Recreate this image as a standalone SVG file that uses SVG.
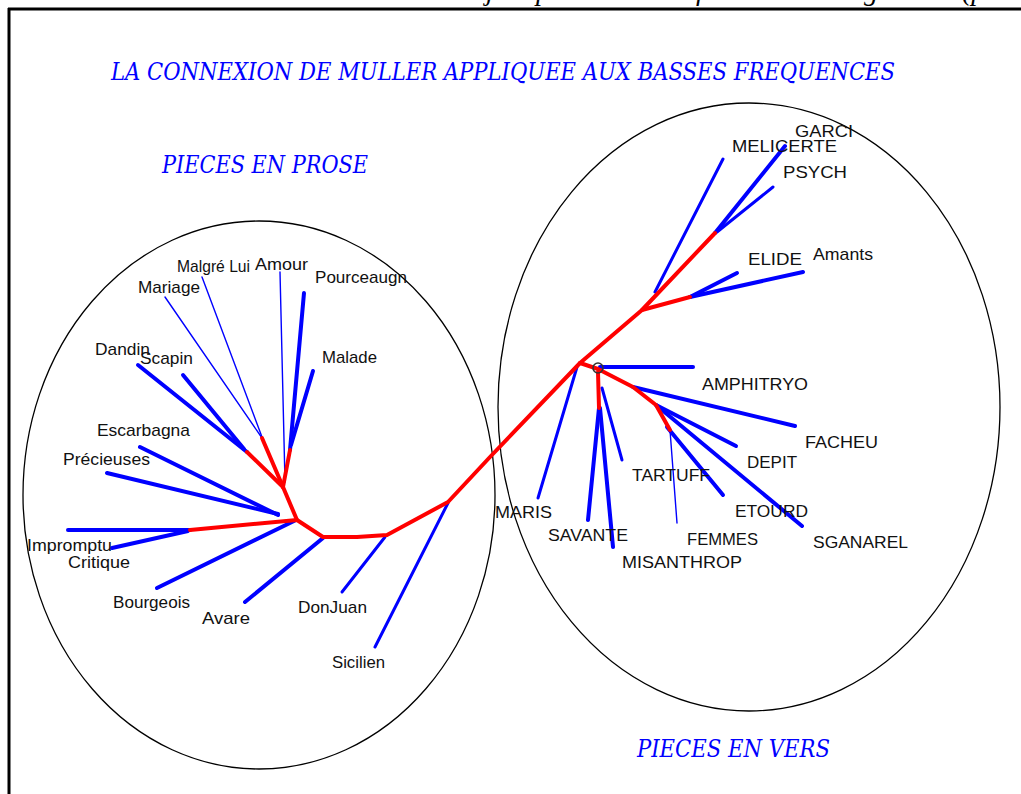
<svg xmlns="http://www.w3.org/2000/svg" width="1021" height="794" viewBox="0 0 1021 794">
<style>
.lbl{font-family:"Liberation Sans",Arial,sans-serif;font-size:17px;fill:#111}
.ttl{font-family:"DejaVu Serif","Liberation Serif",serif;font-style:italic;font-size:24px;fill:#0000ff}
.top{font-family:"Liberation Serif","Times New Roman",serif;font-style:italic;font-size:28px;fill:#000}
.b{stroke:#0000ff;stroke-width:4;fill:none;stroke-linecap:round;stroke-linejoin:round}
.bm{stroke:#0000ff;stroke-width:3;fill:none;stroke-linecap:round}
.bt{stroke:#0000ff;stroke-width:1.4;fill:none;stroke-linecap:round}
.r{stroke:#ff0000;stroke-width:4;fill:none;stroke-linecap:round;stroke-linejoin:round}
.ell{stroke:#000;stroke-width:1.3;fill:none}
</style>
<rect x="0" y="0" width="1021" height="794" fill="#fff"/>
<g id="top-fragment">
<text class="top" x="486" y="0">j</text>
<text class="top" x="536" y="0">p</text>
<text class="top" x="696" y="0">f</text>
<text class="top" x="864" y="0">g</text>
<text class="top" x="962" y="0">(p</text>
</g>
<g id="frame">
<line x1="8" y1="9" x2="1021" y2="9" stroke="#000" stroke-width="3"/>
<line x1="9" y1="8" x2="9" y2="794" stroke="#000" stroke-width="3"/>
</g>
<g id="title"><text class="ttl" x="111" y="80" textLength="784" lengthAdjust="spacingAndGlyphs">LA CONNEXION DE MULLER APPLIQUEE AUX BASSES FREQUENCES</text></g>
<g id="prose-group">
<ellipse class="ell" cx="259" cy="495" rx="236" ry="274"/>
<text class="ttl" x="162" y="173" textLength="206" lengthAdjust="spacingAndGlyphs">PIECES EN PROSE</text>
</g>
<g id="vers-group">
<ellipse class="ell" cx="749" cy="407" rx="251" ry="304"/>
<text class="ttl" x="637" y="757" textLength="193" lengthAdjust="spacingAndGlyphs">PIECES EN VERS</text>
</g>
<g id="connectors">
<!-- left blue -->
<line class="b" x1="138" y1="365" x2="247" y2="452"/>
<line class="b" x1="183" y1="375" x2="244" y2="449"/>
<line class="bt" x1="165" y1="297" x2="262" y2="438"/>
<line class="bt" x1="202" y1="277" x2="262" y2="437"/>
<line class="bt" x1="280" y1="272" x2="285" y2="482"/>
<line class="b" x1="304" y1="293" x2="290" y2="450"/>
<line class="b" x1="313" y1="371" x2="291" y2="445"/>
<line class="b" x1="140" y1="447" x2="278" y2="515"/>
<line class="b" x1="107" y1="473" x2="278" y2="514"/>
<line class="b" x1="68" y1="530" x2="190" y2="530"/>
<line class="b" x1="112" y1="548" x2="188" y2="531"/>
<line class="b" x1="157" y1="588" x2="294" y2="521"/>
<line class="b" x1="245" y1="602" x2="323" y2="538"/>
<line class="bm" x1="342" y1="592" x2="385" y2="537"/>
<line class="bm" x1="375" y1="647" x2="448" y2="503"/>
<!-- right blue -->
<line class="bm" x1="655" y1="292" x2="723" y2="159"/>
<line class="b" x1="715" y1="233" x2="785" y2="146"/>
<line class="bm" x1="717" y1="232" x2="773" y2="187"/>
<line class="b" x1="690" y1="297" x2="737" y2="273"/>
<line class="b" x1="690" y1="297" x2="803" y2="272"/>
<line class="b" x1="600" y1="367" x2="693" y2="367"/>
<line class="b" x1="633" y1="387" x2="795" y2="426"/>
<line class="b" x1="656" y1="405" x2="736" y2="446"/>
<line class="b" x1="656" y1="405" x2="802" y2="526"/>
<line class="b" x1="667" y1="427" x2="723" y2="495"/>
<line class="bt" x1="670" y1="430" x2="677" y2="523"/>
<line class="bm" x1="602" y1="388" x2="622" y2="460"/>
<line class="b" x1="599" y1="408" x2="588" y2="520"/>
<line class="b" x1="600" y1="408" x2="613" y2="547"/>
<line class="bm" x1="577" y1="367" x2="538" y2="498"/>
<!-- red -->
<polyline class="r" points="190,530 297,520 323,537 357,537 387,535 448,502 490,457 580,363 642,310 715,233"/>
<line class="r" x1="297" y1="520" x2="283" y2="487"/>
<line class="r" x1="283" y1="487" x2="247" y2="452"/>
<line class="r" x1="283" y1="487" x2="262" y2="438"/>
<line class="r" x1="283" y1="487" x2="290" y2="450"/>
<line class="r" x1="642" y1="310" x2="690" y2="297"/>
<polyline class="r" points="580,363 598,369 633,387 656,405 670,430"/>
<line class="r" x1="598" y1="372" x2="599" y2="408"/>
<circle cx="598" cy="368" r="5" fill="none" stroke="#333" stroke-width="1.6"/>
</g>
<g id="n-malgrelui"><text class="lbl" x="177" y="272" textLength="73" lengthAdjust="spacingAndGlyphs">Malgré Lui</text></g>
<g id="n-amour"><text class="lbl" x="255" y="270" textLength="53" lengthAdjust="spacingAndGlyphs">Amour</text></g>
<g id="n-mariage"><text class="lbl" x="138" y="293" textLength="62" lengthAdjust="spacingAndGlyphs">Mariage</text></g>
<g id="n-pourceaugn"><text class="lbl" x="315" y="283" textLength="92" lengthAdjust="spacingAndGlyphs">Pourceaugn</text></g>
<g id="n-malade"><text class="lbl" x="322" y="363" textLength="55" lengthAdjust="spacingAndGlyphs">Malade</text></g>
<g id="n-dandin"><text class="lbl" x="95" y="355" textLength="55" lengthAdjust="spacingAndGlyphs">Dandin</text></g>
<g id="n-scapin"><text class="lbl" x="140" y="364" textLength="53" lengthAdjust="spacingAndGlyphs">Scapin</text></g>
<g id="n-escarbagna"><text class="lbl" x="97" y="436" textLength="93" lengthAdjust="spacingAndGlyphs">Escarbagna</text></g>
<g id="n-precieuses"><text class="lbl" x="63" y="465" textLength="87" lengthAdjust="spacingAndGlyphs">Précieuses</text></g>
<g id="n-impromptu"><text class="lbl" x="27" y="551" textLength="85" lengthAdjust="spacingAndGlyphs">Impromptu</text></g>
<g id="n-critique"><text class="lbl" x="68" y="568" textLength="62" lengthAdjust="spacingAndGlyphs">Critique</text></g>
<g id="n-bourgeois"><text class="lbl" x="113" y="608" textLength="77" lengthAdjust="spacingAndGlyphs">Bourgeois</text></g>
<g id="n-avare"><text class="lbl" x="202" y="624" textLength="48" lengthAdjust="spacingAndGlyphs">Avare</text></g>
<g id="n-donjuan"><text class="lbl" x="298" y="613" textLength="69" lengthAdjust="spacingAndGlyphs">DonJuan</text></g>
<g id="n-sicilien"><text class="lbl" x="332" y="668" textLength="53" lengthAdjust="spacingAndGlyphs">Sicilien</text></g>
<g id="n-garci"><text class="lbl" x="795" y="137" textLength="58" lengthAdjust="spacingAndGlyphs">GARCI</text></g>
<g id="n-melicerte"><text class="lbl" x="732" y="152" textLength="105" lengthAdjust="spacingAndGlyphs">MELICERTE</text></g>
<g id="n-psych"><text class="lbl" x="783" y="178" textLength="64" lengthAdjust="spacingAndGlyphs">PSYCH</text></g>
<g id="n-elide"><text class="lbl" x="748" y="265" textLength="54" lengthAdjust="spacingAndGlyphs">ELIDE</text></g>
<g id="n-amants"><text class="lbl" x="813" y="260" textLength="60" lengthAdjust="spacingAndGlyphs">Amants</text></g>
<g id="n-amphitryo"><text class="lbl" x="702" y="390" textLength="106" lengthAdjust="spacingAndGlyphs">AMPHITRYO</text></g>
<g id="n-facheu"><text class="lbl" x="805" y="448" textLength="73" lengthAdjust="spacingAndGlyphs">FACHEU</text></g>
<g id="n-depit"><text class="lbl" x="747" y="468" textLength="50" lengthAdjust="spacingAndGlyphs">DEPIT</text></g>
<g id="n-tartuff"><text class="lbl" x="632" y="481" textLength="78" lengthAdjust="spacingAndGlyphs">TARTUFF</text></g>
<g id="n-etourd"><text class="lbl" x="735" y="517" textLength="73" lengthAdjust="spacingAndGlyphs">ETOURD</text></g>
<g id="n-maris"><text class="lbl" x="495" y="518" textLength="57" lengthAdjust="spacingAndGlyphs">MARIS</text></g>
<g id="n-savante"><text class="lbl" x="548" y="541" textLength="80" lengthAdjust="spacingAndGlyphs">SAVANTE</text></g>
<g id="n-femmes"><text class="lbl" x="687" y="545" textLength="71" lengthAdjust="spacingAndGlyphs">FEMMES</text></g>
<g id="n-sganarel"><text class="lbl" x="813" y="548" textLength="95" lengthAdjust="spacingAndGlyphs">SGANAREL</text></g>
<g id="n-misanthrop"><text class="lbl" x="622" y="568" textLength="120" lengthAdjust="spacingAndGlyphs">MISANTHROP</text></g>
</svg>
